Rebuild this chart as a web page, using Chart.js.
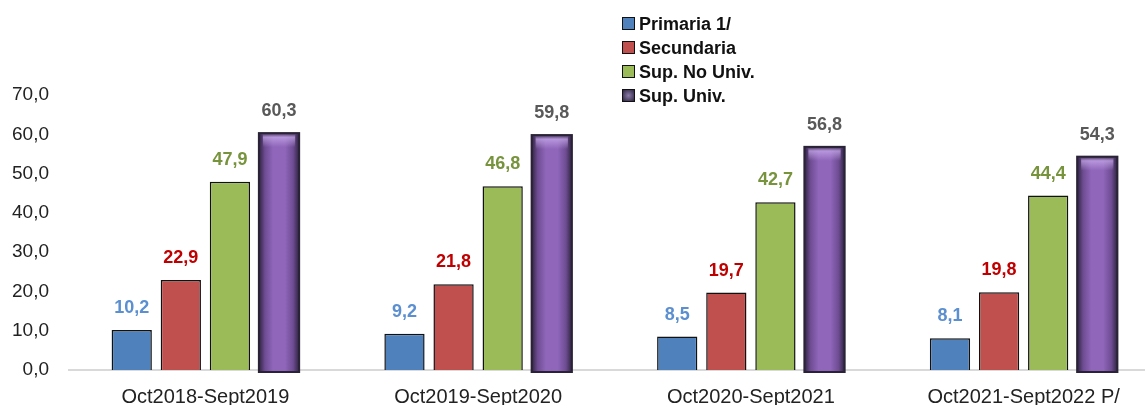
<!DOCTYPE html>
<html>
<head>
<meta charset="utf-8">
<script src="https://cdn.jsdelivr.net/npm/chart.js@4/dist/chart.umd.min.js"></script>
<style>
  html, body { margin: 0; padding: 0; background: #fff; overflow: hidden; }
  #wrap { position: relative; width: 1160px; height: 405px; }
  #legend { position: absolute; left: 622px; top: 12px; font: bold 18px "Liberation Sans", Arial, sans-serif; color: #111; }
  #legend div { height: 24px; line-height: 24px; white-space: nowrap; }
  #legend span { display: inline-block; width: 11px; height: 11px; border: 1.5px solid #111; margin-right: 4px; vertical-align: 0px; }
</style>
</head>
<body>
<div id="wrap">
  <canvas id="chart" width="1160" height="405"></canvas>
  <div id="legend"></div>
</div>
<script>
const periodos = ['Oct2018-Sept2019', 'Oct2019-Sept2020', 'Oct2020-Sept2021', 'Oct2021-Sept2022 P/'];
const primaria = [10.2, 9.2, 8.5, 8.1];
const secundaria = [22.9, 21.8, 19.7, 19.8];
const supNoUniv = [47.9, 46.8, 42.7, 44.4];
const supUniv = [60.3, 59.8, 56.8, 54.3];

const series = [
    { label: 'Primaria 1/', data: primaria, color: '#4f81bd', text: '#5b8fd0' },
    { label: 'Secundaria', data: secundaria, color: '#c0504d', text: '#c00000' },
    { label: 'Sup. No Univ.', data: supNoUniv, color: '#9bbb59', text: '#77933c' },
    { label: 'Sup. Univ.', data: supUniv, color: '#8d64b5', text: '#595959' }
];

const fmt = v => v.toFixed(1).replace('.', ',');

// Sombreado del ultimo grupo (barras moradas)
const purpleShade = {
    id: 'purpleShade',
    afterDatasetDraw(chart, args) {
        if (args.index !== 3) return;
        const ctx = chart.ctx;
        args.meta.data.forEach(bar => {
            const left = bar.x - bar.width / 2;
            const top = bar.y;
            const h = bar.base - bar.y;
            const g = ctx.createLinearGradient(left, 0, left + bar.width, 0);
            g.addColorStop(0, '#2e2440');
            g.addColorStop(0.15, '#6e4c92');
            g.addColorStop(0.35, '#8f66ba');
            g.addColorStop(0.65, '#8f66ba');
            g.addColorStop(0.85, '#6e4c92');
            g.addColorStop(1, '#2e2440');
            ctx.save();
            ctx.fillStyle = g;
            ctx.fillRect(left, top, bar.width, h + 2);
            const hl = ctx.createLinearGradient(0, top, 0, top + 14);
            hl.addColorStop(0, 'rgba(40,30,55,0.9)');
            hl.addColorStop(0.3, 'rgba(200,170,235,0.7)');
            hl.addColorStop(1, 'rgba(200,170,235,0)');
            ctx.fillStyle = hl;
            ctx.fillRect(left + 4, top, bar.width - 8, 14);
            ctx.strokeStyle = '#2a2236';
            ctx.lineWidth = 2;
            ctx.strokeRect(left, top, bar.width, h + 2);
            ctx.restore();
        });
    }
};

// Etiquetas de valor sobre las barras
const valueLabels = {
    id: 'valueLabels',
    afterDatasetsDraw(chart) {
        const ctx = chart.ctx;
        ctx.save();
        ctx.font = 'bold 18px "Liberation Sans", Arial, sans-serif';
        ctx.textAlign = 'center';
        ctx.textBaseline = 'middle';
        chart.data.datasets.forEach((ds, i) => {
            ctx.fillStyle = series[i].text;
            chart.getDatasetMeta(i).data.forEach((bar, j) => {
                ctx.fillText(fmt(ds.data[j]), bar.x, bar.y - 22);
            });
        });
        ctx.restore();
    }
};

new Chart(document.getElementById('chart'), {
    type: 'bar',
    data: {
        labels: periodos,
        datasets: series.map(s => ({
            label: s.label,
            data: s.data,
            backgroundColor: s.color,
            borderColor: '#111',
            borderWidth: 1.5,
            categoryPercentage: 0.72,
            barPercentage: 0.82
        }))
    },
    options: {
        responsive: false,
        animation: false,
        layout: { padding: { top: 95, right: 0, bottom: 0, left: 0 } },
        plugins: {
            legend: { display: false },
            tooltip: { enabled: false }
        },
        scales: {
            x: {
                grid: { display: false },
                border: { color: '#d9d9d9', width: 2 },
                ticks: { color: '#222', font: { size: 20, family: '"Liberation Sans", Arial, sans-serif' }, padding: 7 },
                afterFit: scale => { scale.height = 35; }
            },
            y: {
                min: 0,
                max: 70,
                grid: { display: false },
                border: { display: false },
                ticks: {
                    stepSize: 10,
                    color: '#222',
                    padding: 12,
                    font: { size: 19, family: '"Liberation Sans", Arial, sans-serif' },
                    callback: v => fmt(v)
                },
                afterFit: scale => { scale.width = 69; }
            }
        }
    },
    plugins: [purpleShade, valueLabels]
});

const legend = document.getElementById('legend');
series.forEach(s => {
    const row = document.createElement('div');
    const box = document.createElement('span');
    box.style.background = s.label === 'Sup. Univ.' ? 'radial-gradient(#8a7aa8, #2e2440)' : s.color;
    row.appendChild(box);
    row.appendChild(document.createTextNode(s.label));
    legend.appendChild(row);
});
</script>
</body>
</html>
